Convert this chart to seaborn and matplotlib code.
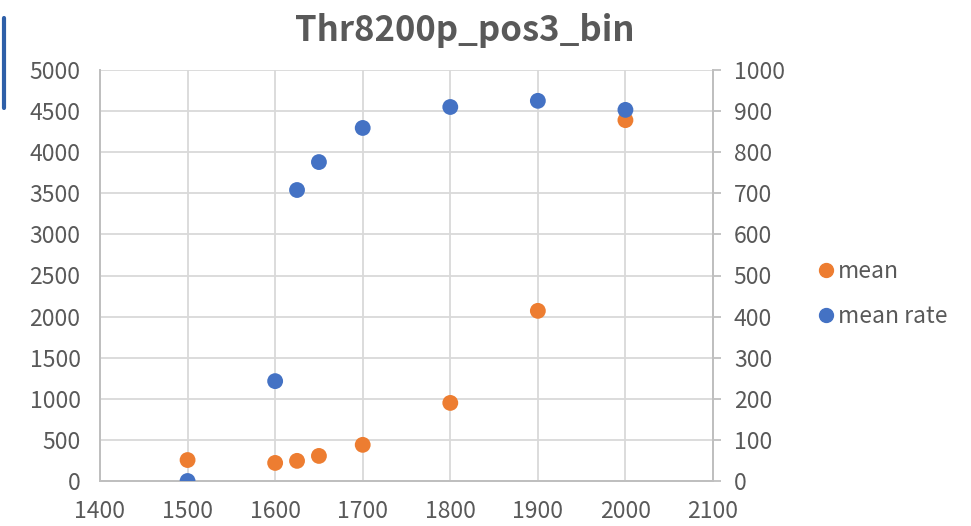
import matplotlib
matplotlib.use("Agg")
import matplotlib.pyplot as plt
import seaborn as sns
import pandas as pd
from matplotlib.lines import Line2D

sns.set_style("white")
plt.rcParams["font.family"] = ["Noto Sans CJK JP", "DejaVu Sans"]

# data
temps = [1500, 1600, 1625, 1650, 1700, 1800, 1900, 2000]
mean = [255, 220, 245, 305, 440, 950, 2070, 4390]
mean_rate = [0, 243, 708, 776, 859, 910, 925, 903]

df = pd.DataFrame({"x": temps, "mean": mean, "mean_rate": mean_rate})

orange = "#ed7d31"
blue = "#4472c4"
grey_txt = "#595959"
grid_c = "#d9d9d9"
spine_c = "#bfbfbf"

fig = plt.figure(figsize=(9.71, 5.26), dpi=100)
ax = fig.add_axes([100 / 971, 45 / 526, 613 / 971, 411 / 526])
ax2 = ax.twinx()

sns.scatterplot(data=df, x="x", y="mean", ax=ax, color=orange, s=130,
                edgecolor="none", zorder=3)
sns.scatterplot(data=df, x="x", y="mean_rate", ax=ax2, color=blue, s=130,
                edgecolor="none", zorder=3)

ax.set_xlim(1400, 2100)
ax.set_xticks(range(1400, 2101, 100))
ax.set_ylim(0, 5000)
ax.set_yticks(range(0, 5001, 500))
ax2.set_ylim(0, 1000)
ax2.set_yticks(range(0, 1001, 100))

ax.grid(True, color=grid_c, linewidth=1.3)
ax.set_axisbelow(True)
ax.set_xlabel("")
ax.set_ylabel("")
ax2.set_ylabel("")

for a in (ax, ax2):
    for sp in a.spines.values():
        sp.set_color(spine_c)
        sp.set_linewidth(1.3)
    a.spines["top"].set_visible(False)

fs = 16.5
ax.tick_params(axis="y", length=0, labelsize=fs, labelcolor=grey_txt, pad=14)
ax.tick_params(axis="x", length=0, labelsize=fs, labelcolor=grey_txt, pad=14)
ax2.tick_params(axis="y", length=6, width=1.3, color=spine_c, labelsize=fs,
                labelcolor=grey_txt, pad=9)

fig.text(465 / 971, 1 - 30 / 526, "Thr8200p_pos3_bin", ha="center", va="center",
         fontsize=25, fontweight="bold", color=grey_txt)

handles = [
    Line2D([], [], marker="o", linestyle="", color=orange, markersize=10),
    Line2D([], [], marker="o", linestyle="", color=blue, markersize=10),
]
fig.legend(handles, ["mean", "mean rate"], loc="center left",
           bbox_to_anchor=(794 / 971, 1 - 294 / 526), frameon=False,
           fontsize=fs, labelcolor=grey_txt, handletextpad=0.0,
           labelspacing=0.95, handlelength=1.0)

# blue bar remnant at the top-left edge
fig.add_artist(Line2D([4 / 971, 4 / 971], [1 - 18 / 526, 1 - 108 / 526],
                      color="#2e5fa8", linewidth=3, transform=fig.transFigure))

fig.savefig("out.png", dpi=100)
